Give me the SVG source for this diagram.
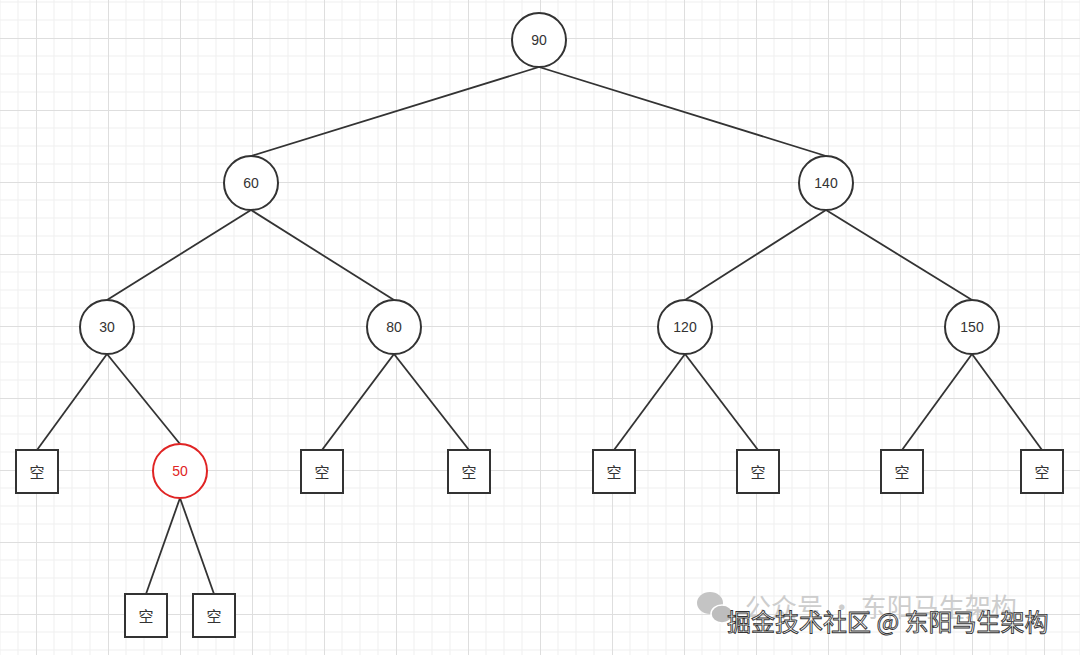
<svg xmlns="http://www.w3.org/2000/svg" width="1080" height="655" viewBox="0 0 1080 655">
<style>
.n{fill:#fff;stroke:#333;stroke-width:2}
.r{fill:#fff;stroke:#e02424;stroke-width:2}
.t{font-family:"Liberation Sans",Arial,sans-serif;font-size:14px;fill:#333;text-anchor:middle;dominant-baseline:central}
.tr{fill:#e02424}
.c{font-family:"Noto Sans CJK SC","Liberation Sans",sans-serif;font-size:15px;fill:#333;text-anchor:middle;dominant-baseline:central}
.e{stroke:#333;stroke-width:1.8;fill:none}
</style>
<defs>
<pattern id="g" patternUnits="userSpaceOnUse" x="36" y="38" width="72" height="72">
<path d="M18 0V72M36 0V72M54 0V72M0 18H72M0 36H72M0 54H72" stroke="#efefef" stroke-width="1" fill="none"/>
<path d="M0.5 0V72M0 0.5H72" stroke="#dedede" stroke-width="1" fill="none"/>
</pattern>
</defs>
<rect width="1080" height="655" fill="#fff"/>
<rect width="1080" height="655" fill="url(#g)"/>
<g id="edges">
<path class="e" d="M539 67L251 156"/>
<path class="e" d="M539 67L826 156"/>
<path class="e" d="M251 210L107 300"/>
<path class="e" d="M251 210L394 300"/>
<path class="e" d="M826 210L685 300"/>
<path class="e" d="M826 210L972 300"/>
<path class="e" d="M107 354L37 450"/>
<path class="e" d="M107 354L180 444"/>
<path class="e" d="M394 354L322 450"/>
<path class="e" d="M394 354L469 450"/>
<path class="e" d="M685 354L614 450"/>
<path class="e" d="M685 354L758 450"/>
<path class="e" d="M972 354L902 450"/>
<path class="e" d="M972 354L1042 450"/>
<path class="e" d="M180 498L146 594"/>
<path class="e" d="M180 498L214 594"/>
</g>
<g id="n90"><circle class="n" cx="539" cy="40" r="27"/><text class="t" x="539" y="40">90</text></g>
<g id="n60"><circle class="n" cx="251" cy="183" r="27"/><text class="t" x="251" y="183">60</text></g>
<g id="n140"><circle class="n" cx="826" cy="183" r="27"/><text class="t" x="826" y="183">140</text></g>
<g id="n30"><circle class="n" cx="107" cy="327" r="27"/><text class="t" x="107" y="327">30</text></g>
<g id="n80"><circle class="n" cx="394" cy="327" r="27"/><text class="t" x="394" y="327">80</text></g>
<g id="n120"><circle class="n" cx="685" cy="327" r="27"/><text class="t" x="685" y="327">120</text></g>
<g id="n150"><circle class="n" cx="972" cy="327" r="27"/><text class="t" x="972" y="327">150</text></g>
<g id="n50"><circle class="r" cx="180" cy="471" r="27"/><text class="t tr" x="180" y="471">50</text></g>
<g id="e1"><rect class="n" x="16" y="450" width="42" height="43"/><text class="c" x="37" y="471">空</text></g>
<g id="e2"><rect class="n" x="301" y="450" width="42" height="43"/><text class="c" x="322" y="471">空</text></g>
<g id="e3"><rect class="n" x="448" y="450" width="42" height="43"/><text class="c" x="469" y="471">空</text></g>
<g id="e4"><rect class="n" x="593" y="450" width="42" height="43"/><text class="c" x="614" y="471">空</text></g>
<g id="e5"><rect class="n" x="737" y="450" width="42" height="43"/><text class="c" x="758" y="471">空</text></g>
<g id="e6"><rect class="n" x="881" y="450" width="42" height="43"/><text class="c" x="902" y="471">空</text></g>
<g id="e7"><rect class="n" x="1021" y="450" width="42" height="43"/><text class="c" x="1042" y="471">空</text></g>
<g id="e8"><rect class="n" x="125" y="594" width="42" height="43"/><text class="c" x="146" y="615">空</text></g>
<g id="e9"><rect class="n" x="193" y="594" width="42" height="43"/><text class="c" x="214" y="615">空</text></g>
<g id="watermark">
<ellipse cx="710" cy="603" rx="13" ry="11" fill="#c4c4c4"/>
<ellipse cx="722" cy="614" rx="11" ry="9" fill="#bdbdbd" stroke="#fff" stroke-width="1.5"/>
<text x="745" y="617" font-family="Noto Sans CJK SC,sans-serif" font-size="26" fill="#cdcdcd">公众号 · 东阳马生架构</text>
<text x="727" y="631" font-family="Noto Sans CJK SC,sans-serif" font-size="24" fill="#fff" stroke="#333" stroke-width="0.9">掘金技术社区 @ 东阳马生架构</text>
</g>
</svg>
